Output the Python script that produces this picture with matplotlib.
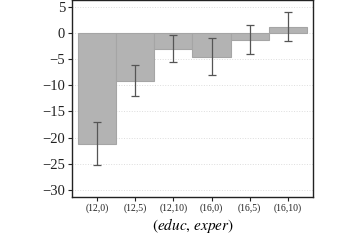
import matplotlib
matplotlib.use("Agg")
import matplotlib.pyplot as plt

plt.rcParams['font.family'] = ['Liberation Serif', 'DejaVu Serif']
plt.rcParams['mathtext.fontset'] = 'stix'

labels = ["(12,0)", "(12,5)", "(12,10)", "(16,0)", "(16,5)", "(16,10)"]
values = [-21.2, -9.1, -3.0, -4.5, -1.3, 1.2]
errors = [4.1, 3.0, 2.6, 3.5, 2.8, 2.8]
yticks = [5, 0, -5, -10, -15, -20, -25, -30]

fig = plt.figure(figsize=(3.6, 2.4), dpi=100)
ax = fig.add_axes([0.2, 0.18, 0.67, 0.82])
x = range(len(labels))
ax.bar(x, values, width=1.0, color="#b3b3b3", edgecolor="#a5a5a5", linewidth=0.8, zorder=2)
ax.errorbar(x, values, yerr=errors, fmt="none", ecolor="#555555", elinewidth=0.9,
            capsize=3, capthick=0.9, zorder=3)

ax.set_xlim(-0.65, 5.66)
ax.set_ylim(-31.3, 6.3)
ax.set_yticks(yticks)
ax.set_yticklabels([str(t).replace("-", "\u2212") for t in yticks], fontsize=10.5)
ax.set_xticks(list(x))
ax.set_xticklabels(labels, fontsize=7)
ax.yaxis.grid(True, linestyle=":", color="#dddddd", linewidth=0.7, zorder=0)
ax.set_xlabel(r"$(educ,\,exper)$", fontsize=11, labelpad=2)
ax.tick_params(direction="out", length=3, width=0.8, colors="#222222", pad=2)
for s in ax.spines.values():
    s.set_color("#222222")
    s.set_linewidth(1.0)

fig.savefig("out.png", dpi=100)
